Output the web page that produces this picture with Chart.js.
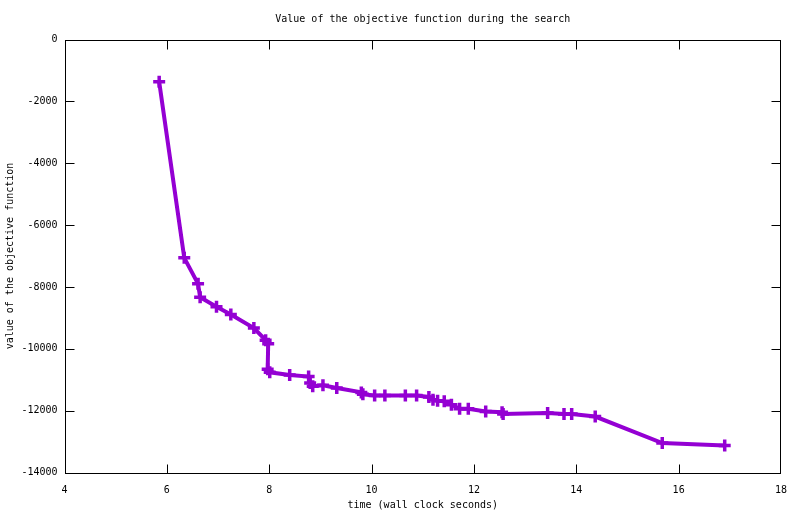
<!DOCTYPE html>
<html>
<head>
<meta charset="utf-8">
<script src="https://cdn.jsdelivr.net/npm/chart.js"></script>
<style>
  html, body { margin: 0; padding: 0; background: #fff; }
  #wrap { width: 800px; height: 514px; }
</style>
</head>
<body>
<div id="wrap"><canvas id="chart"></canvas></div>
<script>
// search trace: wall clock time vs objective value
const times = [5.85, 6.34, 6.61, 6.65, 6.97, 7.25, 7.70, 7.93, 7.98, 7.97,
  8.01, 8.40, 8.77, 8.80, 8.85, 9.05, 9.32, 9.80, 9.83, 10.06,
  10.26, 10.66, 10.88, 11.12, 11.20, 11.29, 11.42, 11.56, 11.72, 11.89,
  12.23, 12.55, 12.57, 13.44, 13.76, 13.91, 14.37, 15.68, 16.90];
const objective = [-1370, -7060, -7900, -8330, -8640, -8890, -9330, -9720, -9840, -10660,
  -10760, -10850, -10900, -11110, -11210, -11180, -11270, -11410, -11470, -11510,
  -11510, -11510, -11510, -11560, -11650, -11680, -11700, -11810, -11940, -11940,
  -12030, -12050, -12110, -12080, -12110, -12110, -12190, -13050, -13130];

const xTicks = [4, 6, 8, 10, 12, 14, 16, 18];
const yTicks = [0, -2000, -4000, -6000, -8000, -10000, -12000, -14000];

const mono = { family: "'DejaVu Sans Mono', 'Liberation Mono', monospace", size: 10, weight: "normal" };

// gnuplot-style frame with inward ticks on all four sides
const framePlugin = {
  id: "frame",
  afterDraw(chart) {
    const ctx = chart.ctx;
    const a = chart.chartArea;
    const xs = chart.scales.x, ys = chart.scales.y;
    const l = Math.round(a.left) + 0.5, r = Math.round(a.right) - 0.5;
    const t = Math.round(a.top) + 0.5, b = Math.round(a.bottom) + 0.5;
    ctx.save();
    ctx.strokeStyle = "#000";
    ctx.lineWidth = 1;
    ctx.strokeRect(l, t, r - l, b - t);
    ctx.beginPath();
    xTicks.slice(1, -1).forEach(function (v) {
      const px = Math.round(xs.getPixelForValue(v)) + 0.5;
      ctx.moveTo(px, b); ctx.lineTo(px, b - 9);
      ctx.moveTo(px, t); ctx.lineTo(px, t + 9);
    });
    yTicks.slice(1, -1).forEach(function (v) {
      const py = Math.round(ys.getPixelForValue(v)) + 0.5;
      ctx.moveTo(l, py); ctx.lineTo(l + 9, py);
      ctx.moveTo(r, py); ctx.lineTo(r - 9, py);
    });
    ctx.stroke();
    ctx.restore();
  }
};

const points = times.map(function (t, i) { return { x: t, y: objective[i] }; });

new Chart(document.getElementById("chart").getContext("2d"), {
  type: "scatter",
  data: {
    datasets: [{
      data: points,
      showLine: true,
      borderColor: "#9400d3",
      backgroundColor: "#9400d3",
      borderWidth: 4,
      pointStyle: "cross",
      pointRadius: 6,
      pointBorderWidth: 3.5,
      pointHoverRadius: 6
    }]
  },
  options: {
    responsive: true,
    maintainAspectRatio: false,
    animation: false,
    layout: { padding: { left: 0, right: 19, top: 0, bottom: 0 } },
    plugins: {
      legend: { display: false },
      tooltip: { enabled: false },
      title: {
        display: true,
        fullSize: false,
        text: "Value of the objective function during the search",
        color: "#000",
        font: mono,
        padding: { top: 13, bottom: 14.5 }
      }
    },
    scales: {
      x: {
        type: "linear",
        min: 4,
        max: 18,
        afterBuildTicks: function (s) { s.ticks = xTicks.map(function (v) { return { value: v }; }); },
        afterFit: function (s) { s.height = 41.5; },
        grid: { display: false, drawTicks: false },
        border: { display: false },
        ticks: { color: "#000", font: mono, padding: 12, maxRotation: 0,
          callback: function (v) { return String(v); } },
        title: {
          display: true,
          text: "time (wall clock seconds)",
          color: "#000",
          font: mono,
          padding: { top: 0, bottom: 3 }
        }
      },
      y: {
        type: "linear",
        min: -14000,
        max: 0,
        afterBuildTicks: function (s) { s.ticks = yTicks.map(function (v) { return { value: v }; }); },
        afterFit: function (s) { s.width = 64.5; },
        grid: { display: false, drawTicks: false },
        border: { display: false },
        ticks: { color: "#000", font: mono, padding: 7,
          callback: function (v) { return String(v); } },
        title: {
          display: true,
          text: "value of the objective function",
          color: "#000",
          font: mono,
          padding: { top: 4, bottom: 0 }
        }
      }
    }
  },
  plugins: [framePlugin]
});
</script>
</body>
</html>
